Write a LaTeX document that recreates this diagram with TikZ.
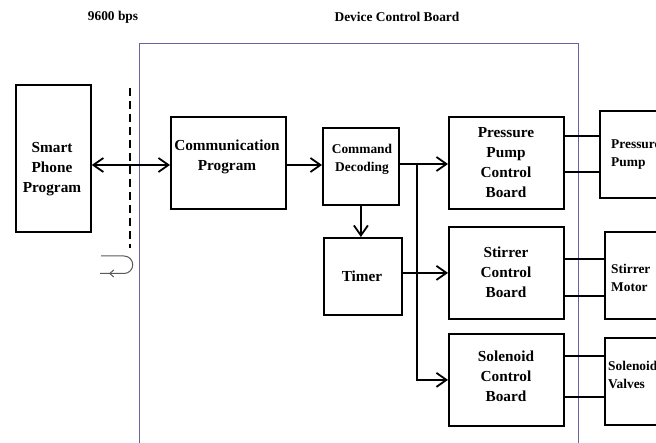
\documentclass[tikz,border=0pt]{standalone}
\usepackage{fontspec}
\setmainfont{Liberation Serif}
\usetikzlibrary{arrows.meta}
\definecolor{framecol}{RGB}{105,100,160}
\definecolor{ucol}{RGB}{90,90,90}
\begin{document}
\begin{tikzpicture}[x=1pt,y=-1pt,
 box/.style={draw=black,line width=1.8pt,inner sep=0pt,anchor=north west},
 big/.style={font=\fontsize{15.3}{20}\selectfont\bfseries,align=center,inner sep=0pt},
 small/.style={font=\fontsize{13.4}{17.5}\selectfont\bfseries,inner sep=0pt},
 barb/.tip={Straight Barb[length=10pt,width=14pt]},
 arr/.style={line width=1.8pt,-barb},
 wire/.style={line width=1.6pt}]
\useasboundingbox (0,0) rectangle (656,443);
% frame
\node[draw=framecol,line width=1pt,inner sep=0pt,anchor=north west,minimum width=439pt,minimum height=420pt] (dcb) at (139,43) {};
% titles
\node[small] (bps) at (113,17) {9600 bps};
\node[small] (dcbt) at (397,17) {Device Control Board};
% boxes
\node[box,minimum width=75pt,minimum height=147pt] (spb) at (15,84) {};
\node[big] (spbt) at (52,169) {Smart\\Phone\\Program};
\node[box,minimum width=115pt,minimum height=92pt] (comm) at (170,116) {};
\node[big] (commt) at (227,156.5) {Communication\\Program};
\node[box,minimum width=76pt,minimum height=77pt] (cmd) at (322,127) {};
\node[small,align=center] (cmdt) at (362,159.5) {Command\\Decoding};
\node[box,minimum width=115pt,minimum height=92pt] (ppcb) at (448,116) {};
\node[big] (ppcbt) at (506,163) {Pressure\\Pump\\Control\\Board};
\node[box,minimum width=78pt,minimum height=77pt] (timer) at (323,237) {};
\node[big] (timert) at (362,276) {Timer};
\node[box,minimum width=115pt,minimum height=92pt] (scb) at (448,226) {};
\node[big] (scbt) at (506,272) {Stirrer\\Control\\Board};
\node[box,minimum width=115pt,minimum height=92pt] (solcb) at (448,333) {};
\node[big] (solcbt) at (506,376) {Solenoid\\Control\\Board};
\node[box,minimum width=80pt,minimum height=87pt] (pp) at (599,110) {};
\node[small,align=left,anchor=west] (ppt) at (611,154.5) {Pressure\\Pump};
\node[box,minimum width=75pt,minimum height=87pt] (sm) at (604,231) {};
\node[small,align=left,anchor=west] (smt) at (611,278) {Stirrer\\Motor};
\node[box,minimum width=75pt,minimum height=87pt] (sv) at (604,337) {};
\node[small,align=left,anchor=west] (svt) at (608,375) {Solenoid\\Valves};
% dashed boundary
\coordinate (d1) at (130,88);
\coordinate (d2) at (130,248);
\draw[line width=1.8pt,dash pattern=on 8pt off 5pt] (d1) -- (d2);
% u-turn
\coordinate (u1) at (101,256);
\coordinate (u2) at (124,256);
\coordinate (u3) at (124,273.5);
\coordinate (u4) at (109,273.5);
\coordinate (u5) at (100,273.5);
\draw[ucol,line width=1pt] (u1) -- (u2) arc[start angle=90,end angle=-90,radius=8.75pt] -- (u5);
\draw[ucol,line width=1pt,-{Straight Barb[length=4pt,width=7pt]}] (u3) -- (u4);
% connectors
\coordinate (lv) at (0,165);
\draw[line width=1.8pt,barb-barb] (spb.east |- lv) -- (comm.west |- lv);
\draw[arr] (comm.east |- lv) -- (cmd.west |- lv);
\coordinate (bx) at (417,164);
\draw[arr] (cmd.east |- bx) -- (ppcb.west |- bx);
\draw[arr] (bx) -- (bx |- solcb.west) -- (solcb.west);
\draw[arr] (cmd.south) -- (cmd.south |- timer.north);
\draw[arr] (timer.east |- scb.west) -- (scb.west);
% wires to devices
\coordinate (w1) at (0,136);
\coordinate (w2) at (0,172);
\coordinate (w3) at (0,259);
\coordinate (w4) at (0,296);
\coordinate (w5) at (0,356);
\coordinate (w6) at (0,397);
\draw[wire] (ppcb.east |- w1) -- (pp.west |- w1);
\draw[wire] (ppcb.east |- w2) -- (pp.west |- w2);
\draw[wire] (scb.east |- w3) -- (sm.west |- w3);
\draw[wire] (scb.east |- w4) -- (sm.west |- w4);
\draw[wire] (solcb.east |- w5) -- (sv.west |- w5);
\draw[wire] (solcb.east |- w6) -- (sv.west |- w6);
\end{tikzpicture}
\end{document}
